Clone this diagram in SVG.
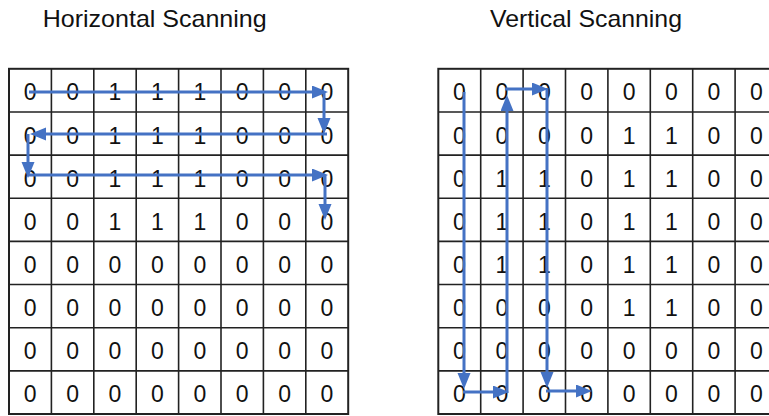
<svg xmlns="http://www.w3.org/2000/svg" width="769" height="416" viewBox="0 0 769 416">
  <style>
    .title { font-family: "Liberation Sans", Arial, sans-serif; font-size: 24px; fill: #111; }
    .cell { font-family: "Liberation Sans", Arial, sans-serif; font-size: 23px; fill: #111; text-anchor: middle; }
    .grid { fill: none; stroke: #222; stroke-width: 1.6; }
    .border { fill: none; stroke: #222; stroke-width: 2; }
    .scan { fill: none; stroke: #4472C4; stroke-width: 3; marker-end: url(#head); }
  </style>
  <defs>
    <marker id="head" markerUnits="userSpaceOnUse" markerWidth="17" markerHeight="14" refX="8" refY="6.5" orient="auto">
      <path d="M0,0 L16,6.5 L0,13 Z" fill="#4472C4"/>
    </marker>
  </defs>
  <rect width="769" height="416" fill="#fff"/>

  <text class="title" x="42.7" y="27.3" textLength="224" lengthAdjust="spacingAndGlyphs">Horizontal Scanning</text>
  <text class="title" x="490" y="27.3" textLength="192" lengthAdjust="spacingAndGlyphs">Vertical Scanning</text>

  <!-- left 8x8 matrix -->
  <g id="horizontal-grid">
    <path class="grid" d="M51.4,68.8V414 M93.8,68.8V414 M136.2,68.8V414 M178.6,68.8V414 M221,68.8V414 M263.4,68.8V414 M305.8,68.8V414
      M9,111.95H348.2 M9,155.1H348.2 M9,198.25H348.2 M9,241.4H348.2 M9,284.55H348.2 M9,327.7H348.2 M9,370.85H348.2"/>
    <rect class="border" x="9" y="68.8" width="339.2" height="345.2"/>
    <g class="cell">
      <text x="30.2" y="100.4">0</text><text x="72.6" y="100.4">0</text><text x="115" y="100.4">1</text><text x="157.4" y="100.4">1</text><text x="199.8" y="100.4">1</text><text x="242.2" y="100.4">0</text><text x="284.6" y="100.4">0</text><text x="327" y="100.4">0</text>
      <text x="30.2" y="143.55">0</text><text x="72.6" y="143.55">0</text><text x="115" y="143.55">1</text><text x="157.4" y="143.55">1</text><text x="199.8" y="143.55">1</text><text x="242.2" y="143.55">0</text><text x="284.6" y="143.55">0</text><text x="327" y="143.55">0</text>
      <text x="30.2" y="186.7">0</text><text x="72.6" y="186.7">0</text><text x="115" y="186.7">1</text><text x="157.4" y="186.7">1</text><text x="199.8" y="186.7">1</text><text x="242.2" y="186.7">0</text><text x="284.6" y="186.7">0</text><text x="327" y="186.7">0</text>
      <text x="30.2" y="229.85">0</text><text x="72.6" y="229.85">0</text><text x="115" y="229.85">1</text><text x="157.4" y="229.85">1</text><text x="199.8" y="229.85">1</text><text x="242.2" y="229.85">0</text><text x="284.6" y="229.85">0</text><text x="327" y="229.85">0</text>
      <text x="30.2" y="273">0</text><text x="72.6" y="273">0</text><text x="115" y="273">0</text><text x="157.4" y="273">0</text><text x="199.8" y="273">0</text><text x="242.2" y="273">0</text><text x="284.6" y="273">0</text><text x="327" y="273">0</text>
      <text x="30.2" y="316.15">0</text><text x="72.6" y="316.15">0</text><text x="115" y="316.15">0</text><text x="157.4" y="316.15">0</text><text x="199.8" y="316.15">0</text><text x="242.2" y="316.15">0</text><text x="284.6" y="316.15">0</text><text x="327" y="316.15">0</text>
      <text x="30.2" y="359.3">0</text><text x="72.6" y="359.3">0</text><text x="115" y="359.3">0</text><text x="157.4" y="359.3">0</text><text x="199.8" y="359.3">0</text><text x="242.2" y="359.3">0</text><text x="284.6" y="359.3">0</text><text x="327" y="359.3">0</text>
      <text x="30.2" y="402.45">0</text><text x="72.6" y="402.45">0</text><text x="115" y="402.45">0</text><text x="157.4" y="402.45">0</text><text x="199.8" y="402.45">0</text><text x="242.2" y="402.45">0</text><text x="284.6" y="402.45">0</text><text x="327" y="402.45">0</text>
    </g>
  </g>

  <!-- right 8x8 matrix (its right edge runs past the canvas) -->
  <g id="vertical-grid">
    <path class="grid" d="M480.7,68.8V414 M523.1,68.8V414 M565.5,68.8V414 M607.9,68.8V414 M650.3,68.8V414 M692.7,68.8V414 M735.1,68.8V414
      M438.3,111.95H777.5 M438.3,155.1H777.5 M438.3,198.25H777.5 M438.3,241.4H777.5 M438.3,284.55H777.5 M438.3,327.7H777.5 M438.3,370.85H777.5"/>
    <rect class="border" x="438.3" y="68.8" width="339.2" height="345.2"/>
    <g class="cell">
      <text x="459.5" y="100.4">0</text><text x="501.9" y="100.4">0</text><text x="544.3" y="100.4">0</text><text x="586.7" y="100.4">0</text><text x="629.1" y="100.4">0</text><text x="671.5" y="100.4">0</text><text x="713.9" y="100.4">0</text><text x="756.3" y="100.4">0</text>
      <text x="459.5" y="143.55">0</text><text x="501.9" y="143.55">0</text><text x="544.3" y="143.55">0</text><text x="586.7" y="143.55">0</text><text x="629.1" y="143.55">1</text><text x="671.5" y="143.55">1</text><text x="713.9" y="143.55">0</text><text x="756.3" y="143.55">0</text>
      <text x="459.5" y="186.7">0</text><text x="501.9" y="186.7">1</text><text x="544.3" y="186.7">1</text><text x="586.7" y="186.7">0</text><text x="629.1" y="186.7">1</text><text x="671.5" y="186.7">1</text><text x="713.9" y="186.7">0</text><text x="756.3" y="186.7">0</text>
      <text x="459.5" y="229.85">0</text><text x="501.9" y="229.85">1</text><text x="544.3" y="229.85">1</text><text x="586.7" y="229.85">0</text><text x="629.1" y="229.85">1</text><text x="671.5" y="229.85">1</text><text x="713.9" y="229.85">0</text><text x="756.3" y="229.85">0</text>
      <text x="459.5" y="273">0</text><text x="501.9" y="273">1</text><text x="544.3" y="273">1</text><text x="586.7" y="273">0</text><text x="629.1" y="273">1</text><text x="671.5" y="273">1</text><text x="713.9" y="273">0</text><text x="756.3" y="273">0</text>
      <text x="459.5" y="316.15">0</text><text x="501.9" y="316.15">0</text><text x="544.3" y="316.15">0</text><text x="586.7" y="316.15">0</text><text x="629.1" y="316.15">1</text><text x="671.5" y="316.15">1</text><text x="713.9" y="316.15">0</text><text x="756.3" y="316.15">0</text>
      <text x="459.5" y="359.3">0</text><text x="501.9" y="359.3">0</text><text x="544.3" y="359.3">0</text><text x="586.7" y="359.3">0</text><text x="629.1" y="359.3">0</text><text x="671.5" y="359.3">0</text><text x="713.9" y="359.3">0</text><text x="756.3" y="359.3">0</text>
      <text x="459.5" y="402.45">0</text><text x="501.9" y="402.45">0</text><text x="544.3" y="402.45">0</text><text x="586.7" y="402.45">0</text><text x="629.1" y="402.45">0</text><text x="671.5" y="402.45">0</text><text x="713.9" y="402.45">0</text><text x="756.3" y="402.45">0</text>
    </g>
  </g>

  <!-- scan order arrows -->
  <g id="connectors">
    <path class="scan" d="M29,92H320"/>
    <path class="scan" d="M324,92V126"/>
    <path class="scan" d="M327,134H38"/>
    <path class="scan" d="M28,134V170"/>
    <path class="scan" d="M27,175H320"/>
    <path class="scan" d="M325,175V212"/>

    <path class="scan" d="M464,92V381"/>
    <path class="scan" d="M463,392H501"/>
    <path class="scan" d="M507,393V103"/>
    <path class="scan" d="M505,89H540"/>
    <path class="scan" d="M547,88V380"/>
    <path class="scan" d="M546,391H584"/>
  </g>
</svg>
